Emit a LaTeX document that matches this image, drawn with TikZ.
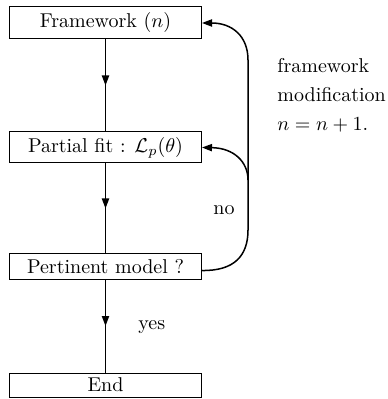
\documentclass[tikz,border=0pt]{standalone}
\usetikzlibrary{arrows.meta,decorations.markings}
\begin{document}
\begin{tikzpicture}[x=0.5pt,y=-0.5pt,
  stepbox/.style={draw,line width=0.5pt,minimum width=96pt,inner sep=0pt,font=\normalsize},
  flow/.style={line width=0.75pt},
  midarrow/.style={flow,postaction={decorate},decoration={markings,
      mark=at position 0.5 with {\arrow{Triangle[length=5pt,width=3.6pt]}}}},
  back/.style={flow,-{Triangle[length=5pt,width=3.6pt]}},
  lbl/.style={anchor=base west,inner sep=0pt}]
\useasboundingbox (0,0) rectangle (387,399);

% main chain of boxes
\node[stepbox,minimum height=16pt]   (fw)  at (105.5,23)    {Framework $(n)$};
\node[stepbox,minimum height=15.5pt] (pf)  at (105.5,147.5) {Partial fit : $\mathcal{L}_p(\theta)$};
\node[stepbox,minimum height=12.5pt] (pm)  at (105.5,266.5) {Pertinent model ?};
\node[stepbox,minimum height=12pt]   (end) at (105.5,385)   {End};

% downward connectors with arrow halfway
\draw[midarrow] (fw.south) -- (pf.north);
\draw[midarrow] (pf.south) -- (pm.north);
\draw[midarrow] (pm.south) -- (end.north);

% feedback loop
\coordinate (lowbend) at (248,230);
\coordinate (split)   at (248,180);
\coordinate (topbend) at (248,60);
\draw[flow] ([yshift=-2pt]pm.east) .. controls (234,271) and (248,256) .. (lowbend)
  -- (topbend);
\draw[back] (topbend) .. controls (248,36) and (232,23) .. (fw.east);
\draw[back] (split) .. controls (248,162) and (234,148) .. (pf.east);

% labels
\node[lbl] (t1) at (277,73)  {framework};
\node[lbl] (t2) at (277,102) {modification};
\node[lbl] (t3) at (277,131) {$n=n+1.$};
\node[lbl] (no)  at (213,215) {no};
\node[lbl] (yes) at (138,329) {yes};
\end{tikzpicture}
\end{document}
